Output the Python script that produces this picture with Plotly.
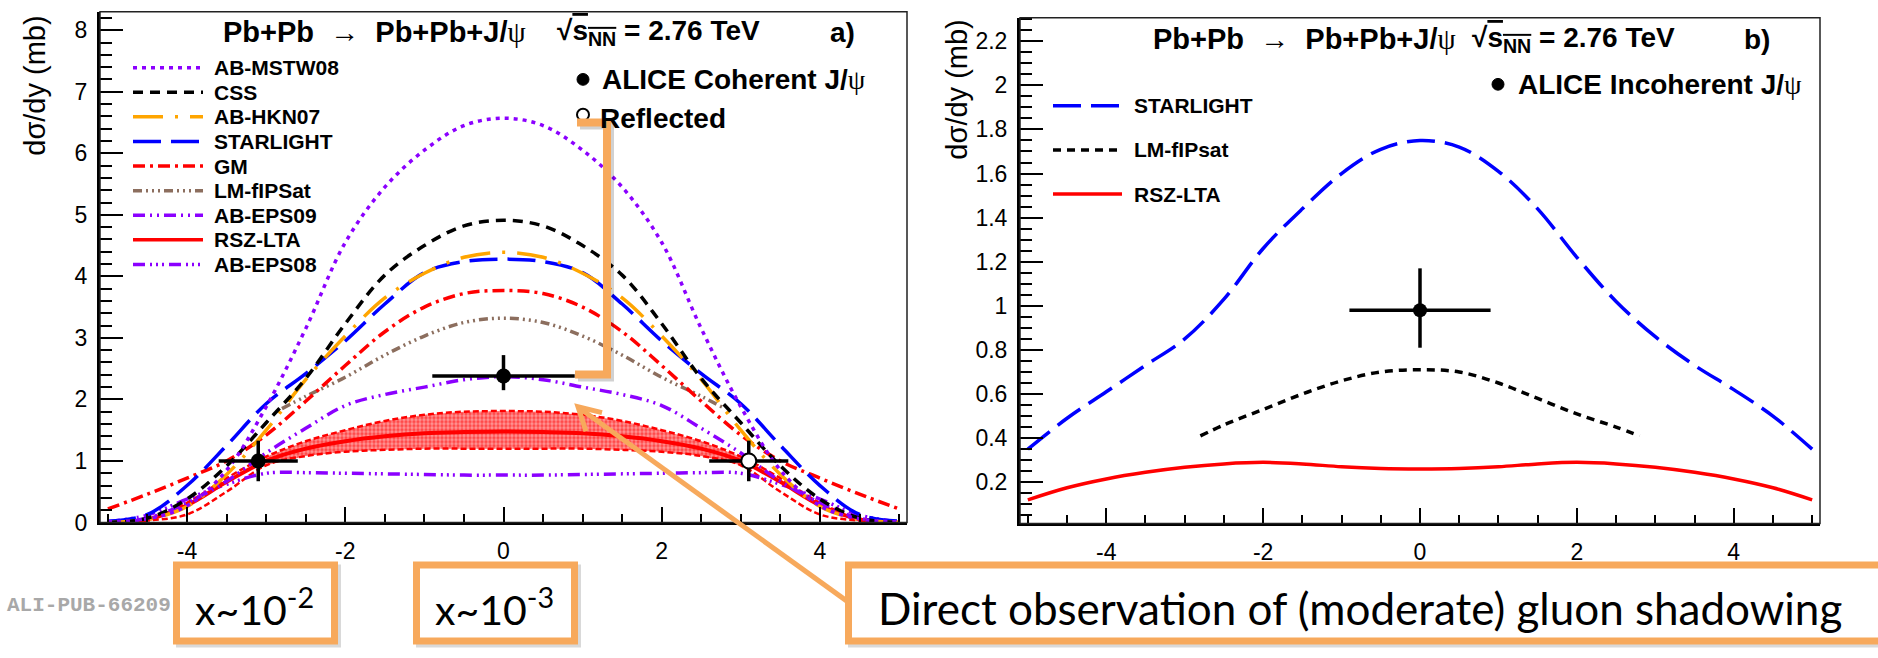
import plotly.graph_objects as go

W, H = 1878, 658


def px(x):
    return x / W


def py(y):
    return 1 - y / H


# ---------------- data: panel a (coherent) ----------------
XA = [-5.0, -4.5, -4.0, -3.5, -3.0, -2.5, -2.0, -1.5, -1.0, -0.5, 0.0,
      0.5, 1.0, 1.5, 2.0, 2.5, 3.0, 3.5, 4.0, 4.5, 5.0]
AB_MSTW08 = [0.01, 0.06, 0.27, 0.85, 1.88, 3.15, 4.55, 5.45, 6.05, 6.45, 6.57,
             6.45, 6.05, 5.45, 4.55, 3.15, 1.88, 0.85, 0.27, 0.06, 0.01]
CSS = [0.0, 0.07, 0.38, 0.92, 1.62, 2.34, 3.23, 4.02, 4.50, 4.82, 4.91,
       4.82, 4.50, 4.02, 3.23, 2.34, 1.62, 0.92, 0.38, 0.07, 0.0]
AB_HKN07 = [0.0, 0.05, 0.26, 0.78, 1.50, 2.32, 3.03, 3.65, 4.05, 4.31, 4.39,
            4.31, 4.05, 3.65, 3.03, 2.32, 1.50, 0.78, 0.26, 0.05, 0.0]
STARLIGHT_A = [0.02, 0.13, 0.60, 1.25, 1.93, 2.42, 2.95, 3.55, 4.06, 4.24, 4.28,
               4.24, 4.06, 3.55, 2.95, 2.42, 1.93, 1.25, 0.60, 0.13, 0.02]
GM = [0.22, 0.46, 0.72, 1.00, 1.42, 1.97, 2.55, 3.10, 3.50, 3.72, 3.77,
      3.72, 3.50, 3.10, 2.55, 1.97, 1.42, 1.00, 0.72, 0.46, 0.22]
XLM = [-2.8, -2.5, -2.0, -1.5, -1.0, -0.5, 0.0, 0.5, 1.0, 1.5, 2.0, 2.5, 2.8]
LM_FIPSAT = [1.85, 2.05, 2.36, 2.72, 3.03, 3.25, 3.32, 3.25, 3.03, 2.72, 2.36, 2.05, 1.85]
AB_EPS09 = [0.01, 0.07, 0.32, 0.67, 1.13, 1.53, 1.90, 2.08, 2.20, 2.32, 2.37,
            2.32, 2.20, 2.08, 1.90, 1.53, 1.13, 0.67, 0.32, 0.07, 0.01]
AB_EPS08 = [0.01, 0.12, 0.38, 0.62, 0.80, 0.81, 0.80, 0.79, 0.78, 0.77, 0.77,
            0.77, 0.78, 0.79, 0.80, 0.81, 0.80, 0.62, 0.38, 0.12, 0.01]
RSZ_LTA = [0.0, 0.05, 0.28, 0.66, 1.00, 1.20, 1.32, 1.40, 1.45, 1.47, 1.48,
           1.47, 1.45, 1.40, 1.32, 1.20, 1.00, 0.66, 0.28, 0.05, 0.0]
RSZ_UP = [0.0, 0.06, 0.32, 0.72, 1.07, 1.32, 1.50, 1.65, 1.75, 1.80, 1.81,
          1.80, 1.75, 1.65, 1.50, 1.32, 1.07, 0.72, 0.32, 0.06, 0.0]
RSZ_LO = [0.0, 0.03, 0.13, 0.50, 0.93, 1.08, 1.15, 1.18, 1.20, 1.20, 1.20,
          1.20, 1.20, 1.18, 1.15, 1.08, 0.93, 0.50, 0.13, 0.03, 0.0]

COH_X = [-3.1, 0.0]
COH_Y = [1.0, 2.38]
COH_EYP = [0.33, 0.34]
COH_EYM = [0.33, 0.23]
COH_EX = [0.5, 0.9]
REF_X = [3.1]
REF_Y = [1.0]
REF_EYP = [0.33]
REF_EYM = [0.33]
REF_EX = [0.5]

# ---------------- data: panel b (incoherent) ----------------
STARLIGHT_B = [0.35, 0.49, 0.61, 0.73, 0.85, 1.03, 1.26, 1.44, 1.60, 1.71, 1.75,
               1.72, 1.61, 1.44, 1.22, 1.02, 0.86, 0.73, 0.62, 0.50, 0.35]
LM_FIPSAT_B = [0.41, 0.46, 0.53, 0.60, 0.66, 0.70, 0.71, 0.70, 0.65, 0.58, 0.51, 0.45, 0.41]
RSZ_LTA_B = [0.12, 0.175, 0.215, 0.245, 0.268, 0.283, 0.29, 0.283, 0.27, 0.262, 0.26,
             0.262, 0.27, 0.283, 0.29, 0.283, 0.268, 0.245, 0.215, 0.175, 0.12]
INC_X = [0.0]
INC_Y = [0.98]
INC_EYP = [0.19]
INC_EYM = [0.17]
INC_EX = [0.9]

X_TICKS = [-4, -2, 0, 2, 4]
X_TICK_LABELS = ["-4", "-2", "0", "2", "4"]

MODELS_A = ["AB-MSTW08", "CSS", "AB-HKN07", "STARLIGHT", "GM", "LM-fIPSat",
            "AB-EPS09", "RSZ-LTA", "AB-EPS08"]
MODELS_B = ["STARLIGHT", "LM-fIPsat", "RSZ-LTA"]

FONT = "Liberation Sans"
ORANGE = "#F7A95C"
PURPLE = "#8B00FF"
BROWN = "#8C6E5E"

STYLE_A = {
    "AB-MSTW08": (PURPLE, "4px,5px"),
    "CSS": ("black", "10px,7px"),
    "AB-HKN07": ("#FFA500", "30px,12px,3px,12px"),
    "STARLIGHT": ("#0000FF", "28px,10px"),
    "GM": ("#FF0000", "12px,5px,3px,5px"),
    "LM-fIPSat": (BROWN, "9px,4px,2px,4px,2px,4px,2px,4px"),
    "AB-EPS09": (PURPLE, "12px,5px,2px,5px,2px,5px"),
    "RSZ-LTA": ("#FF0000", "solid"),
    "AB-EPS08": (PURPLE, "12px,5px,2px,4px,2px,4px,2px,5px"),
}
STYLE_B = {
    "STARLIGHT": ("#0000FF", "28px,10px"),
    "LM-fIPsat": ("black", "8px,6px"),
    "RSZ-LTA": ("#FF0000", "solid"),
}

fig = go.Figure()

# RSZ-LTA uncertainty band (hatched) in central region
bx = XA[4:17]
fig.add_trace(go.Scatter(
    x=bx + bx[::-1], y=RSZ_UP[4:17] + RSZ_LO[4:17][::-1],
    fill="toself", mode="lines", line=dict(width=0),
    fillcolor="rgba(255,110,110,1)",
    fillpattern=dict(shape=".", fgcolor="#FF0000", bgcolor="rgba(255,150,150,1)",
                     size=4, solidity=0.55),
    xaxis="x", yaxis="y", showlegend=False, hoverinfo="skip"))
for edge in (RSZ_UP, RSZ_LO):
    fig.add_trace(go.Scatter(x=XA, y=edge, mode="lines", line_shape="spline",
                             line=dict(color="#FF0000", width=2.5, dash="6px,3px"),
                             xaxis="x", yaxis="y", showlegend=False))

series_a = {
    "AB-EPS08": (XA, AB_EPS08),
    "RSZ-LTA": (XA, RSZ_LTA),
    "AB-EPS09": (XA, AB_EPS09),
    "LM-fIPSat": (XLM, LM_FIPSAT),
    "GM": (XA, GM),
    "STARLIGHT": (XA, STARLIGHT_A),
    "AB-HKN07": (XA, AB_HKN07),
    "CSS": (XA, CSS),
    "AB-MSTW08": (XA, AB_MSTW08),
}
for name, (xs, ys) in series_a.items():
    col, dash = STYLE_A[name]
    fig.add_trace(go.Scatter(x=xs, y=ys, mode="lines", name=name, line_shape="spline",
                             line=dict(color=col, width=4 if name == "RSZ-LTA" else 3.5, dash=dash),
                             xaxis="x", yaxis="y", showlegend=False))

fig.add_trace(go.Scatter(
    x=COH_X, y=COH_Y, mode="markers", name="ALICE Coherent J/ψ",
    marker=dict(color="black", size=15, symbol="circle"),
    error_y=dict(type="data", symmetric=False, array=COH_EYP, arrayminus=COH_EYM,
                 color="black", thickness=3.5, width=0),
    error_x=dict(type="data", array=COH_EX, color="black", thickness=3.5, width=0),
    xaxis="x", yaxis="y", showlegend=False))
fig.add_trace(go.Scatter(
    x=REF_X, y=REF_Y, mode="markers", name="Reflected",
    marker=dict(color="white", size=15, symbol="circle",
                line=dict(color="black", width=2)),
    error_y=dict(type="data", symmetric=False, array=REF_EYP, arrayminus=REF_EYM,
                 color="black", thickness=3.5, width=0),
    error_x=dict(type="data", array=REF_EX, color="black", thickness=3.5, width=0),
    xaxis="x", yaxis="y", showlegend=False))

series_b = {
    "RSZ-LTA": (XA, RSZ_LTA_B),
    "LM-fIPsat": (XLM, LM_FIPSAT_B),
    "STARLIGHT": (XA, STARLIGHT_B),
}
for name, (xs, ys) in series_b.items():
    col, dash = STYLE_B[name]
    fig.add_trace(go.Scatter(x=xs, y=ys, mode="lines", name=name, line_shape="spline",
                             line=dict(color=col, width=3.5, dash=dash),
                             xaxis="x2", yaxis="y2", showlegend=False))
fig.add_trace(go.Scatter(
    x=INC_X, y=INC_Y, mode="markers", name="ALICE Incoherent J/ψ",
    marker=dict(color="black", size=14, symbol="circle"),
    error_y=dict(type="data", symmetric=False, array=INC_EYP, arrayminus=INC_EYM,
                 color="black", thickness=3.5, width=0),
    error_x=dict(type="data", array=INC_EX, color="black", thickness=3.5, width=0),
    xaxis="x2", yaxis="y2", showlegend=False))


def xax(domain, anchor):
    return dict(domain=domain, anchor=anchor, range=[-5.1, 5.1], showgrid=False,
                zeroline=False, showline=True, linecolor="black", linewidth=3,
                ticks="inside", ticklen=15, tickwidth=2, tickcolor="black",
                tickmode="array", tickvals=X_TICKS, ticktext=X_TICK_LABELS,
                ticklabelstandoff=6,
                tickfont=dict(family=FONT, size=23, color="black"),
                minor=dict(dtick=0.5, tick0=0, ticks="inside", ticklen=8,
                           tickwidth=2, tickcolor="black", showgrid=False))


def yax(domain, anchor, rng, dt, mdt):
    return dict(domain=domain, anchor=anchor, range=rng, showgrid=False,
                zeroline=False, showline=True, linecolor="black", linewidth=3,
                ticks="inside", ticklen=23, tickwidth=2, tickcolor="black",
                dtick=dt, tick0=0, ticklabelstandoff=5,
                tickfont=dict(family=FONT, size=23, color="black"),
                minor=dict(dtick=mdt, tick0=0, ticks="inside", ticklen=12,
                           tickwidth=2, tickcolor="black", showgrid=False))


fig.update_layout(
    width=W, height=H, margin=dict(l=0, r=0, t=0, b=0),
    paper_bgcolor="white", plot_bgcolor="white", showlegend=False,
    xaxis=xax([px(100), px(907)], "y"),
    yaxis=yax([py(533), py(12)], "x", [0, 8.3], 1, 0.2),
    xaxis2=xax([px(1020), px(1820)], "y2"),
    yaxis2=yax([py(534), py(18)], "x2", [0.013, 2.307], 0.2, 0.05),
)

shapes = []
ann = []


def text(x, y, s, size, xanchor="left", color="black", family=FONT, angle=0, yanchor="middle"):
    ann.append(dict(x=px(x), y=py(y), xref="paper", yref="paper", text=s,
                    showarrow=False, xanchor=xanchor, yanchor=yanchor, textangle=angle,
                    font=dict(family=family, size=size, color=color)))


# frames
for (x0, x1, y0, y1) in [(100, 907, 12, 533), (1020, 1820, 18, 534)]:
    shapes.append(dict(type="rect", xref="paper", yref="paper", x0=px(x0), x1=px(x1),
                       y0=py(y1), y1=py(y0), line=dict(color="#222", width=1.5),
                       layer="above"))

PSI = "<span style='font-family:Liberation Serif'>ψ</span>"
SQRT = "√<span style='text-decoration:overline'>s<sub>NN</sub></span>"

# titles (centered on measured text centres)
for (c1, c2, xr, yc, lab) in [(374, 658, 857, 33, "a)"), (1304, 1573, 1772, 40, "b)")]:
    text(c1, yc, "<b>Pb+Pb</b>&nbsp;&nbsp;→&nbsp;&nbsp;<b>Pb+Pb+J/</b>" + PSI, 29, xanchor="center")
    text(c2, yc, "<b>" + SQRT + " = 2.76 TeV</b>", 28, xanchor="center")
    text(xr, yc, "<b>" + lab + "</b>", 28, xanchor="right")

# y titles
text(35, 14, "dσ/dy (mb)", 29, xanchor="center", angle=-90, yanchor="top")
text(957, 18, "dσ/dy (mb)", 29, xanchor="center", angle=-90, yanchor="top")

# data legends
shapes.append(dict(type="circle", xref="paper", yref="paper", x0=px(577), x1=px(589),
                   y0=py(87), y1=py(75), fillcolor="black", line=dict(color="black", width=1)))
text(734, 81, "<b>ALICE Coherent J/</b>" + PSI, 28, xanchor="center")
shapes.append(dict(type="circle", xref="paper", yref="paper", x0=px(577), x1=px(589),
                   y0=py(123), y1=py(111), fillcolor="white", line=dict(color="black", width=2)))
text(598, 121, "<b>Reflected</b>", 28)
shapes.append(dict(type="circle", xref="paper", yref="paper", x0=px(1492), x1=px(1504),
                   y0=py(92), y1=py(80), fillcolor="black", line=dict(color="black", width=1)))
text(1660, 86, "<b>ALICE Incoherent J/</b>" + PSI, 28, xanchor="center")

# model legends
for i, name in enumerate(MODELS_A):
    col, dash = STYLE_A[name]
    yy = 69 + 25.1 * i
    shapes.append(dict(type="line", xref="paper", yref="paper", x0=px(133), x1=px(203),
                       y0=py(yy), y1=py(yy), line=dict(color=col, width=3.5, dash=dash)))
    text(212, yy, "<b>" + name + "</b>", 21)
for i, name in enumerate(MODELS_B):
    col, dash = STYLE_B[name]
    yy = 108 + 45 * i
    shapes.append(dict(type="line", xref="paper", yref="paper", x0=px(1053), x1=px(1122),
                       y0=py(yy), y1=py(yy), line=dict(color=col, width=3.5, dash=dash)))
    text(1132, yy, "<b>" + name + "</b>", 21)


# slide overlay decorations
def path(pts):
    return "M " + " L ".join(f"{px(a)},{py(b)}" for a, b in pts)


br = [(577, 125), (607, 125), (607, 382), (575, 382)]
shapes.append(dict(type="path", xref="paper", yref="paper",
                   path=path([(a + 3, b + 3) for a, b in br]),
                   line=dict(color="rgba(0,0,0,0.18)", width=8), layer="above"))
shapes.append(dict(type="path", xref="paper", yref="paper", path=path(br),
                   line=dict(color=ORANGE, width=8), layer="above"))

shapes.append(dict(type="path", xref="paper", yref="paper",
                   path=path([(848, 614), (579, 416)]),
                   line=dict(color=ORANGE, width=5), layer="above"))
shapes.append(dict(type="path", xref="paper", yref="paper",
                   path=path([(602, 421), (578, 415), (586, 440)]),
                   line=dict(color=ORANGE, width=5), layer="above"))

for (x0, x1) in [(176.5, 334.5), (416.5, 574.5), (848.5, 1884)]:
    shapes.append(dict(type="rect", xref="paper", yref="paper", x0=px(x0 + 3), x1=px(x1 + 3),
                       y0=py(657), y1=py(579.5), line=dict(color="rgba(0,0,0,0.15)", width=7)))
    shapes.append(dict(type="rect", xref="paper", yref="paper", x0=px(x0), x1=px(x1),
                       y0=py(654), y1=py(576.5), fillcolor="white",
                       line=dict(color=ORANGE, width=7)))

text(255, 619, "x~10<sup>-2</sup>", 41, xanchor="center", family="Lato")
text(495, 619, "x~10<sup>-3</sup>", 41, xanchor="center", family="Lato")
text(1360, 620, "Direct observation of (moderate) gluon shadowing", 44,
     xanchor="center", family="Lato")
text(5, 618, "<b>ALI-PUB-66209</b>", 21, color="#A8A8A8", family="Liberation Mono")

fig.update_layout(shapes=shapes, annotations=ann)
fig.write_html("out.html")
